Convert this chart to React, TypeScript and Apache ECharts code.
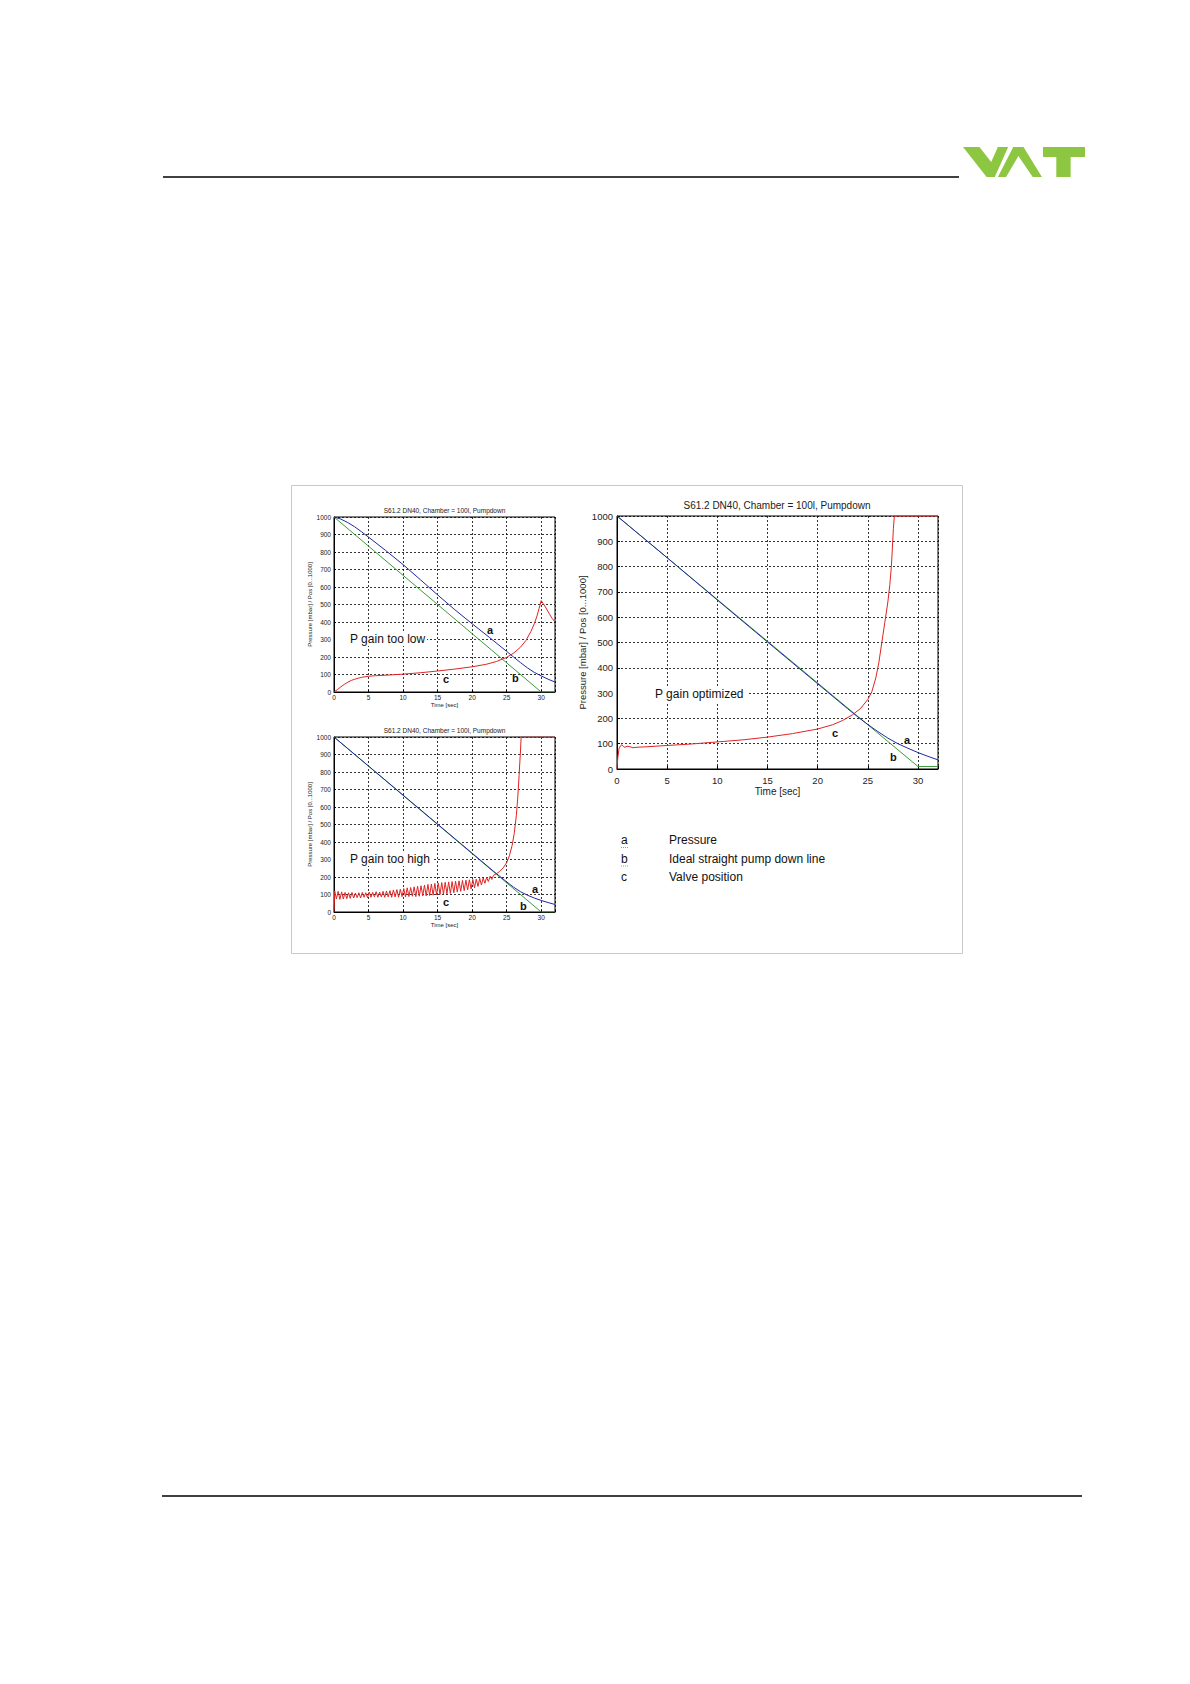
import React, { useEffect, useRef } from "react";
import * as echarts from "echarts";

const FONT = '"Liberation Sans", Arial, Helvetica, sans-serif';

const chartTitle = "S61.2 DN40, Chamber = 100l, Pumpdown";
const xAxisName = "Time [sec]";
const yAxisName = "Pressure [mbar] / Pos [0...1000]";
const xTickLabels = [0, 5, 10, 15, 20, 25, 30];

// Chart 1: P gain too low
const lowIdeal = [[0, 1000], [30, 0], [32, 0]];
const lowPressure = [
  [0, 1000], [1, 988], [2, 968], [3, 944], [4, 915], [5, 885], [7.5, 808], [10, 728],
  [12.5, 642], [15, 555], [17.5, 470], [20, 390], [22.5, 312], [25, 232], [26, 200],
  [27, 168], [28, 138], [29, 112], [30, 92], [31, 73], [32, 57],
];
const lowValve = [
  [0, 0], [0.5, 14], [1, 30], [1.5, 44], [2, 56], [2.5, 66], [3, 73], [3.5, 79], [4, 84],
  [5, 90], [6, 93], [7.5, 96], [10, 102], [12.5, 110], [15, 120], [17.5, 131], [20, 144],
  [22, 158], [23.5, 174], [25, 198], [26, 222], [27, 256], [27.8, 295], [28.5, 345],
  [29, 390], [29.4, 435], [29.7, 478], [30, 522], [30.3, 505], [30.7, 480], [31.2, 445],
  [31.6, 420], [32, 400],
];

// Chart 2: P gain too high
const highIdeal = [[0, 1000], [30, 0], [32, 0]];
const highPressure = [
  [0, 1000], [5, 834], [10, 668], [15, 502], [20, 336], [23, 236], [24, 204], [25, 172],
  [26, 142], [27, 116], [28, 96], [29, 80], [30, 66], [31, 54], [32, 43],
];
const highValve = [
  [0, 0], [0.1, 120], [0.35, 75], [0.6, 118], [0.85, 72], [1.1, 115], [1.35, 74], [1.6, 112],
  [1.85, 76], [2.1, 110], [2.35, 78], [2.6, 112], [2.85, 80], [3.1, 108], [3.35, 82],
  [3.6, 110], [3.85, 80], [4.1, 112], [4.35, 84], [4.6, 110], [4.85, 82], [5.1, 114],
  [5.35, 84], [5.6, 112], [5.85, 86], [6.1, 116], [6.35, 84], [6.6, 114], [6.85, 86],
  [7.1, 118], [7.35, 84], [7.6, 120], [7.85, 86], [8.1, 122], [8.35, 84], [8.6, 126],
  [8.85, 86], [9.1, 128], [9.35, 84], [9.6, 130], [9.85, 88], [10.1, 134], [10.35, 86],
  [10.6, 138], [10.85, 88], [11.1, 140], [11.35, 90], [11.6, 144], [11.85, 88], [12.1, 148],
  [12.35, 90], [12.6, 150], [12.85, 92], [13.1, 154], [13.35, 92], [13.6, 158], [13.85, 94],
  [14.1, 160], [14.35, 96], [14.6, 164], [14.85, 98], [15.1, 166], [15.35, 100], [15.6, 168],
  [15.85, 102], [16.1, 170], [16.35, 104], [16.6, 172], [16.85, 106], [17.1, 174],
  [17.35, 110], [17.6, 176], [17.85, 114], [18.1, 178], [18.35, 118], [18.6, 180],
  [18.85, 122], [19.1, 182], [19.35, 126], [19.6, 184], [19.85, 132], [20.1, 186],
  [20.35, 138], [20.6, 188], [20.85, 146], [21.1, 192], [21.35, 154], [21.6, 194],
  [21.85, 164], [22.1, 198], [22.35, 174], [22.6, 204], [22.85, 186], [23.1, 210],
  [23.5, 218], [24, 232], [24.5, 252], [25, 282], [25.4, 322], [25.8, 382], [26.1, 450],
  [26.4, 550], [26.6, 650], [26.8, 780], [27, 920], [27.1, 1000], [32, 1000],
];

// Chart 3: P gain optimized
const optIdeal = [[0, 1000], [30, 10], [32, 10]];
const optPressure = [
  [0, 1000], [5, 835], [10, 668], [15, 502], [20, 337], [23, 238], [24, 206], [25, 176],
  [26, 148], [27, 122], [28, 100], [29, 82], [30, 65], [31, 50], [32, 36],
];
const optValve = [
  [0, 0], [0.08, 45], [0.2, 80], [0.35, 92], [0.5, 96], [0.65, 88], [0.8, 86], [1, 90],
  [1.3, 88], [1.6, 84], [2, 86], [3, 88], [5, 93], [7.5, 99], [10, 107], [12.5, 115],
  [15, 126], [17.5, 140], [20, 158], [21.5, 175], [22.5, 192], [23.5, 215], [24.3, 240],
  [25, 275], [25.4, 305], [25.8, 360], [26.1, 420], [26.4, 500], [26.7, 580], [27, 660],
  [27.2, 730], [27.35, 800], [27.45, 870], [27.55, 950], [27.65, 1000], [32, 1000],
];

const legendKeys = ["a", "b", "c"];
const legendLabels = ["Pressure", "Ideal straight pump down line", "Valve position"];
const panelNotes = ["P gain too low", "P gain too high", "P gain optimized"];

const BLUE = "#1f2a9e";
const GREEN = "#3c9c3c";
const RED = "#e02424";
const LOGO_GREEN = "#8DC641";

function xAx(gi: number, small: boolean) {
  return {
    type: "value",
    gridIndex: gi,
    min: 0,
    max: 32,
    interval: 5,
    name: xAxisName,
    nameLocation: "middle",
    nameGap: small ? 10 : 17,
    nameTextStyle: { fontSize: small ? 6 : 10, color: "#222", fontFamily: FONT },
    axisLine: { show: true, lineStyle: { color: "#000", width: 1 } },
    axisTick: { show: true, inside: true, length: small ? 2 : 3, lineStyle: { color: "#000" } },
    axisLabel: {
      fontSize: small ? 6.5 : 9.5,
      color: "#222",
      margin: small ? 2 : 6,
      fontFamily: FONT,
      formatter: (v: number) => (xTickLabels.includes(v) ? String(v) : ""),
    },
    splitLine: { show: true, lineStyle: { color: "#000", type: [2, 2], width: 0.8 } },
  };
}

function yAx(gi: number, small: boolean) {
  return {
    type: "value",
    gridIndex: gi,
    min: 0,
    max: 1000,
    interval: 100,
    name: yAxisName,
    nameLocation: "middle",
    nameGap: small ? 19 : 29,
    nameTextStyle: { fontSize: small ? 6 : 9.5, color: "#222", fontFamily: FONT },
    axisLine: { show: true, lineStyle: { color: "#000", width: 1 } },
    axisTick: { show: true, inside: true, length: small ? 2 : 3, lineStyle: { color: "#000" } },
    axisLabel: {
      fontSize: small ? 6.5 : 9.5,
      color: "#222",
      margin: small ? 3 : 4,
      fontFamily: FONT,
      formatter: (v: number) => String(v),
    },
    splitLine: { show: true, lineStyle: { color: "#000", type: [2, 2], width: 0.8 } },
  };
}

function lineSeries(data: number[][], gi: number, color: string, z: number) {
  return {
    type: "line",
    xAxisIndex: gi,
    yAxisIndex: gi,
    data,
    symbol: "none",
    lineStyle: { color, width: 1 },
    z,
    clip: true,
  };
}

function txt(text: string, x: number, y: number, size: number, bold = false, align = "left", fill = "#111") {
  return {
    type: "text",
    x,
    y,
    style: {
      text,
      font: `${bold ? "bold " : ""}${size}px ${FONT}`,
      fill,
      align,
      textAlign: align,
      verticalAlign: "middle",
      textVerticalAlign: "middle",
    },
    z: 50,
  };
}

function whiteBox(x: number, y: number, w: number, h: number) {
  return { type: "rect", shape: { x, y, width: w, height: h }, style: { fill: "#fff" }, z: 40 };
}

function poly(points: number[][]) {
  return { type: "polygon", shape: { points }, style: { fill: LOGO_GREEN } };
}

export default function App() {
  const ref = useRef<HTMLDivElement>(null);
  useEffect(() => {
    document.body.style.margin = "0";
    if (!ref.current) return;
    const chart = echarts.init(ref.current, null, { renderer: "svg" });
    const grids = [
      { left: 334, top: 517, width: 221, height: 175 },
      { left: 334, top: 737, width: 221, height: 175 },
      { left: 617, top: 516, width: 321, height: 253 },
    ].map((g) => ({ ...g, show: true, borderColor: "#000", borderWidth: 1, backgroundColor: "transparent" }));

    const option = {
      animation: false,
      backgroundColor: "#fff",
      textStyle: { fontFamily: FONT },
      grid: grids,
      xAxis: [xAx(0, true), xAx(1, true), xAx(2, false)],
      yAxis: [yAx(0, true), yAx(1, true), yAx(2, false)],
      series: [
        lineSeries(lowIdeal, 0, GREEN, 2),
        lineSeries(lowPressure, 0, BLUE, 3),
        lineSeries(lowValve, 0, RED, 4),
        lineSeries(highIdeal, 1, GREEN, 2),
        lineSeries(highPressure, 1, BLUE, 3),
        lineSeries(highValve, 1, RED, 4),
        lineSeries(optIdeal, 2, GREEN, 2),
        lineSeries(optPressure, 2, BLUE, 3),
        lineSeries(optValve, 2, RED, 4),
      ],
      graphic: [
        // header / footer rules
        { type: "line", shape: { x1: 163, y1: 177, x2: 959, y2: 177 }, style: { stroke: "#000", lineWidth: 1.5 } },
        { type: "line", shape: { x1: 162, y1: 1496, x2: 1082, y2: 1496 }, style: { stroke: "#000", lineWidth: 1.5 } },
        // logo
        {
          type: "group",
          x: -30.2,
          y: 0,
          scaleX: 1.025,
          children: [
            poly([[969, 147], [985, 147], [996.5, 162], [1003, 147], [1013, 147], [1000, 177], [992, 177]]),
            poly([[1018, 147], [1028, 147], [1046, 177], [1037, 177], [1023, 156], [1011, 177], [1003, 177]]),
            poly([[1047, 147], [1088, 147], [1088, 157], [1047, 157]]),
            poly([[1060, 147], [1074, 147], [1074, 177], [1060, 177]]),
          ],
        },
        // figure frame
        {
          type: "rect",
          shape: { x: 291.5, y: 485.5, width: 671, height: 468 },
          style: { fill: "none", stroke: "#c8c8c8", lineWidth: 1 },
          z: 1,
        },
        // chart titles
        txt(chartTitle, 444.5, 510, 6.5, false, "center", "#222"),
        txt(chartTitle, 444.5, 730, 6.5, false, "center", "#222"),
        txt(chartTitle, 777, 505, 10, false, "center", "#222"),
        // text boxes
        whiteBox(335, 632, 92, 14),
        whiteBox(335, 852, 98, 14),
        whiteBox(618, 686, 131, 16),
        // annotations chart 1
        txt(panelNotes[0], 350, 639, 12),
        txt("a", 487, 630, 11, true),
        txt("b", 512, 678, 11, true),
        txt("c", 443, 679, 11, true),
        // annotations chart 2
        txt(panelNotes[1], 350, 859, 12),
        txt("a", 532, 889, 11, true),
        txt("b", 520, 906, 11, true),
        txt("c", 443, 902, 11, true),
        // annotations chart 3
        txt(panelNotes[2], 655, 694, 12),
        txt("c", 832, 733, 11, true),
        txt("a", 904, 740, 11, true),
        txt("b", 890, 757, 11, true),
        // legend
        ...legendKeys.map((k, i) => txt(k, 621, 840 + i * 18.5, 12)),
        ...legendLabels.map((l, i) => txt(l, 669, 840 + i * 18.5, 12)),
        { type: "line", shape: { x1: 621, y1: 847.5, x2: 628, y2: 847.5 }, style: { stroke: "#999", lineWidth: 1, lineDash: [1, 1] } },
        { type: "line", shape: { x1: 621, y1: 866, x2: 628, y2: 866 }, style: { stroke: "#999", lineWidth: 1, lineDash: [1, 1] } },
      ],
    };
    chart.setOption(option as any);
    return () => chart.dispose();
  }, []);
  return (
    <div
      ref={ref}
      style={{ position: "absolute", left: 0, top: 0, width: 1190, height: 1684, background: "#fff" }}
    />
  );
}
